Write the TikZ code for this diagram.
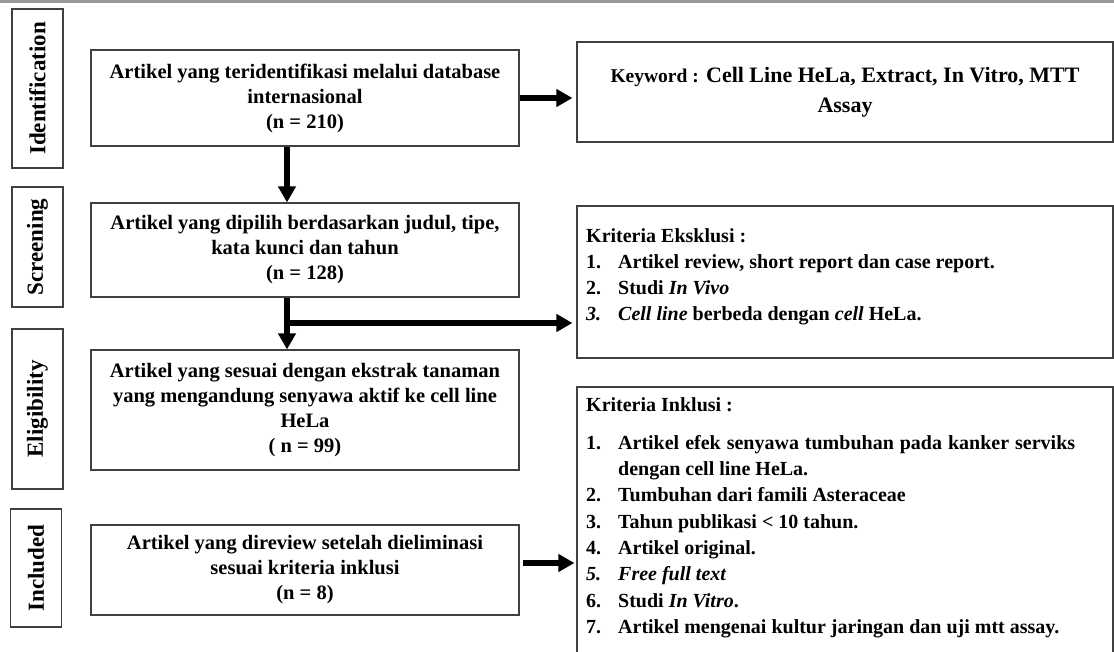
\documentclass[tikz,border=0pt]{standalone}
\usepackage{fontspec}
\setmainfont{Liberation Serif}
\usetikzlibrary{arrows.meta}
\newcommand{\itemno}[1]{\makebox[32pt][l]{#1}}

\begin{document}
\begin{tikzpicture}[x=1pt, y=-1pt, >={Triangle[length=16pt,width=17pt]},
	box/.style={draw=black!75, line width=1.1pt, align=center, inner sep=0pt, font=\bfseries\fontsize{20.5}{25}\selectfont},
	phase/.style={draw=black!75, line width=1.1pt, rotate=90, minimum height=51pt, inner sep=0pt, font=\bfseries\fontsize{23}{26}\selectfont},
	crit/.style={anchor=north west, align=left, inner sep=0pt, font=\bfseries\fontsize{20}{26.3}\selectfont},
	flow/.style={->, line width=5.5pt}]
	\useasboundingbox (0,0) rectangle (1114,652);
	\clip (0,0) rectangle (1114,652);
	\fill[black!40] (0,0) rectangle (1114,3);

	% phases on the left
	\node[phase, minimum width=159pt] (ident) at (37.5,88.5) {Identification};
	\node[phase, minimum width=120pt] (screen) at (37.5,247) {Screening};
	\node[phase, minimum width=160pt] (elig) at (37.5,409) {Eligibility};
	\node[phase, minimum width=118pt] (incl) at (36,568) {Included};

	% main column
	\node[box, minimum width=428pt, minimum height=96pt] (found) at (305,98) {Artikel yang teridentifikasi melalui database\\ internasional\\ (n = 210)};
	\node[box, minimum width=428pt, minimum height=94pt] (picked) at (305,250) {Artikel yang dipilih berdasarkan judul, tipe,\\ kata kunci dan tahun\\ (n = 128)};
	\node[box, minimum width=428pt, minimum height=120pt] (fit) at (305,410) {Artikel yang sesuai dengan ekstrak tanaman\\ yang mengandung senyawa aktif ke cell line\\ HeLa\\ ( n = 99)};
	\node[box, minimum width=428pt, minimum height=90pt] (review) at (305,570) {Artikel yang direview setelah dieliminasi\\ sesuai kriteria inklusi\\ (n = 8)};

	% right column
	\node[box, minimum width=536pt, minimum height=100pt, font=\bfseries\fontsize{22}{30}\selectfont] (keyword) at (845,92) {{\fontsize{19.5}{30}\selectfont Keyword :} Cell Line HeLa, Extract, In Vitro, MTT\\ Assay};
	\node[box, minimum width=536pt, minimum height=152pt] (exclbox) at (845,282) {};
	\node[box, minimum width=536pt, minimum height=300pt] (inclbox) at (845,537) {};

	\node[crit] (excltxt) at (586,228) {Kriteria Eksklusi :\\
		\itemno{1.}Artikel review, short report dan case report.\\
		\itemno{2.}Studi \textit{In Vivo}\\
		\itemno{\textit{3.}}\textit{Cell line} berbeda dengan \textit{cell} HeLa.};
	\node[crit] (incltxt) at (586,397) {Kriteria Inklusi :\\[12pt]
		\itemno{1.}\makebox[457pt][s]{Artikel efek senyawa tumbuhan pada kanker serviks}\\
		\itemno{}dengan cell line HeLa.\\
		\itemno{2.}Tumbuhan dari famili Asteraceae\\
		\itemno{3.}Tahun publikasi < 10 tahun.\\
		\itemno{4.}Artikel original.\\
		\itemno{\textit{5.}}\textit{Free full text}\\
		\itemno{6.}Studi \textit{In Vitro}.\\
		\itemno{7.}Artikel mengenai kultur jaringan dan uji mtt assay.};

	% arrows
	\coordinate (trunk) at (287,0);
	\coordinate (split) at (287,323);
	\draw[flow] (found.south -| trunk) -- (picked.north -| trunk);
	\draw[flow] (picked.south -| trunk) -- (fit.north -| trunk);
	\draw[flow, shorten >=4pt] (split) -- (split -| exclbox.west);
	\draw[flow, shorten >=4pt] (found.east) -- (found.east -| keyword.west);
	\draw[flow, shorten <=3pt, shorten >=2pt] ([yshift=7pt]review.east) -- ([yshift=7pt]review.east -| inclbox.west);
\end{tikzpicture}
\end{document}
